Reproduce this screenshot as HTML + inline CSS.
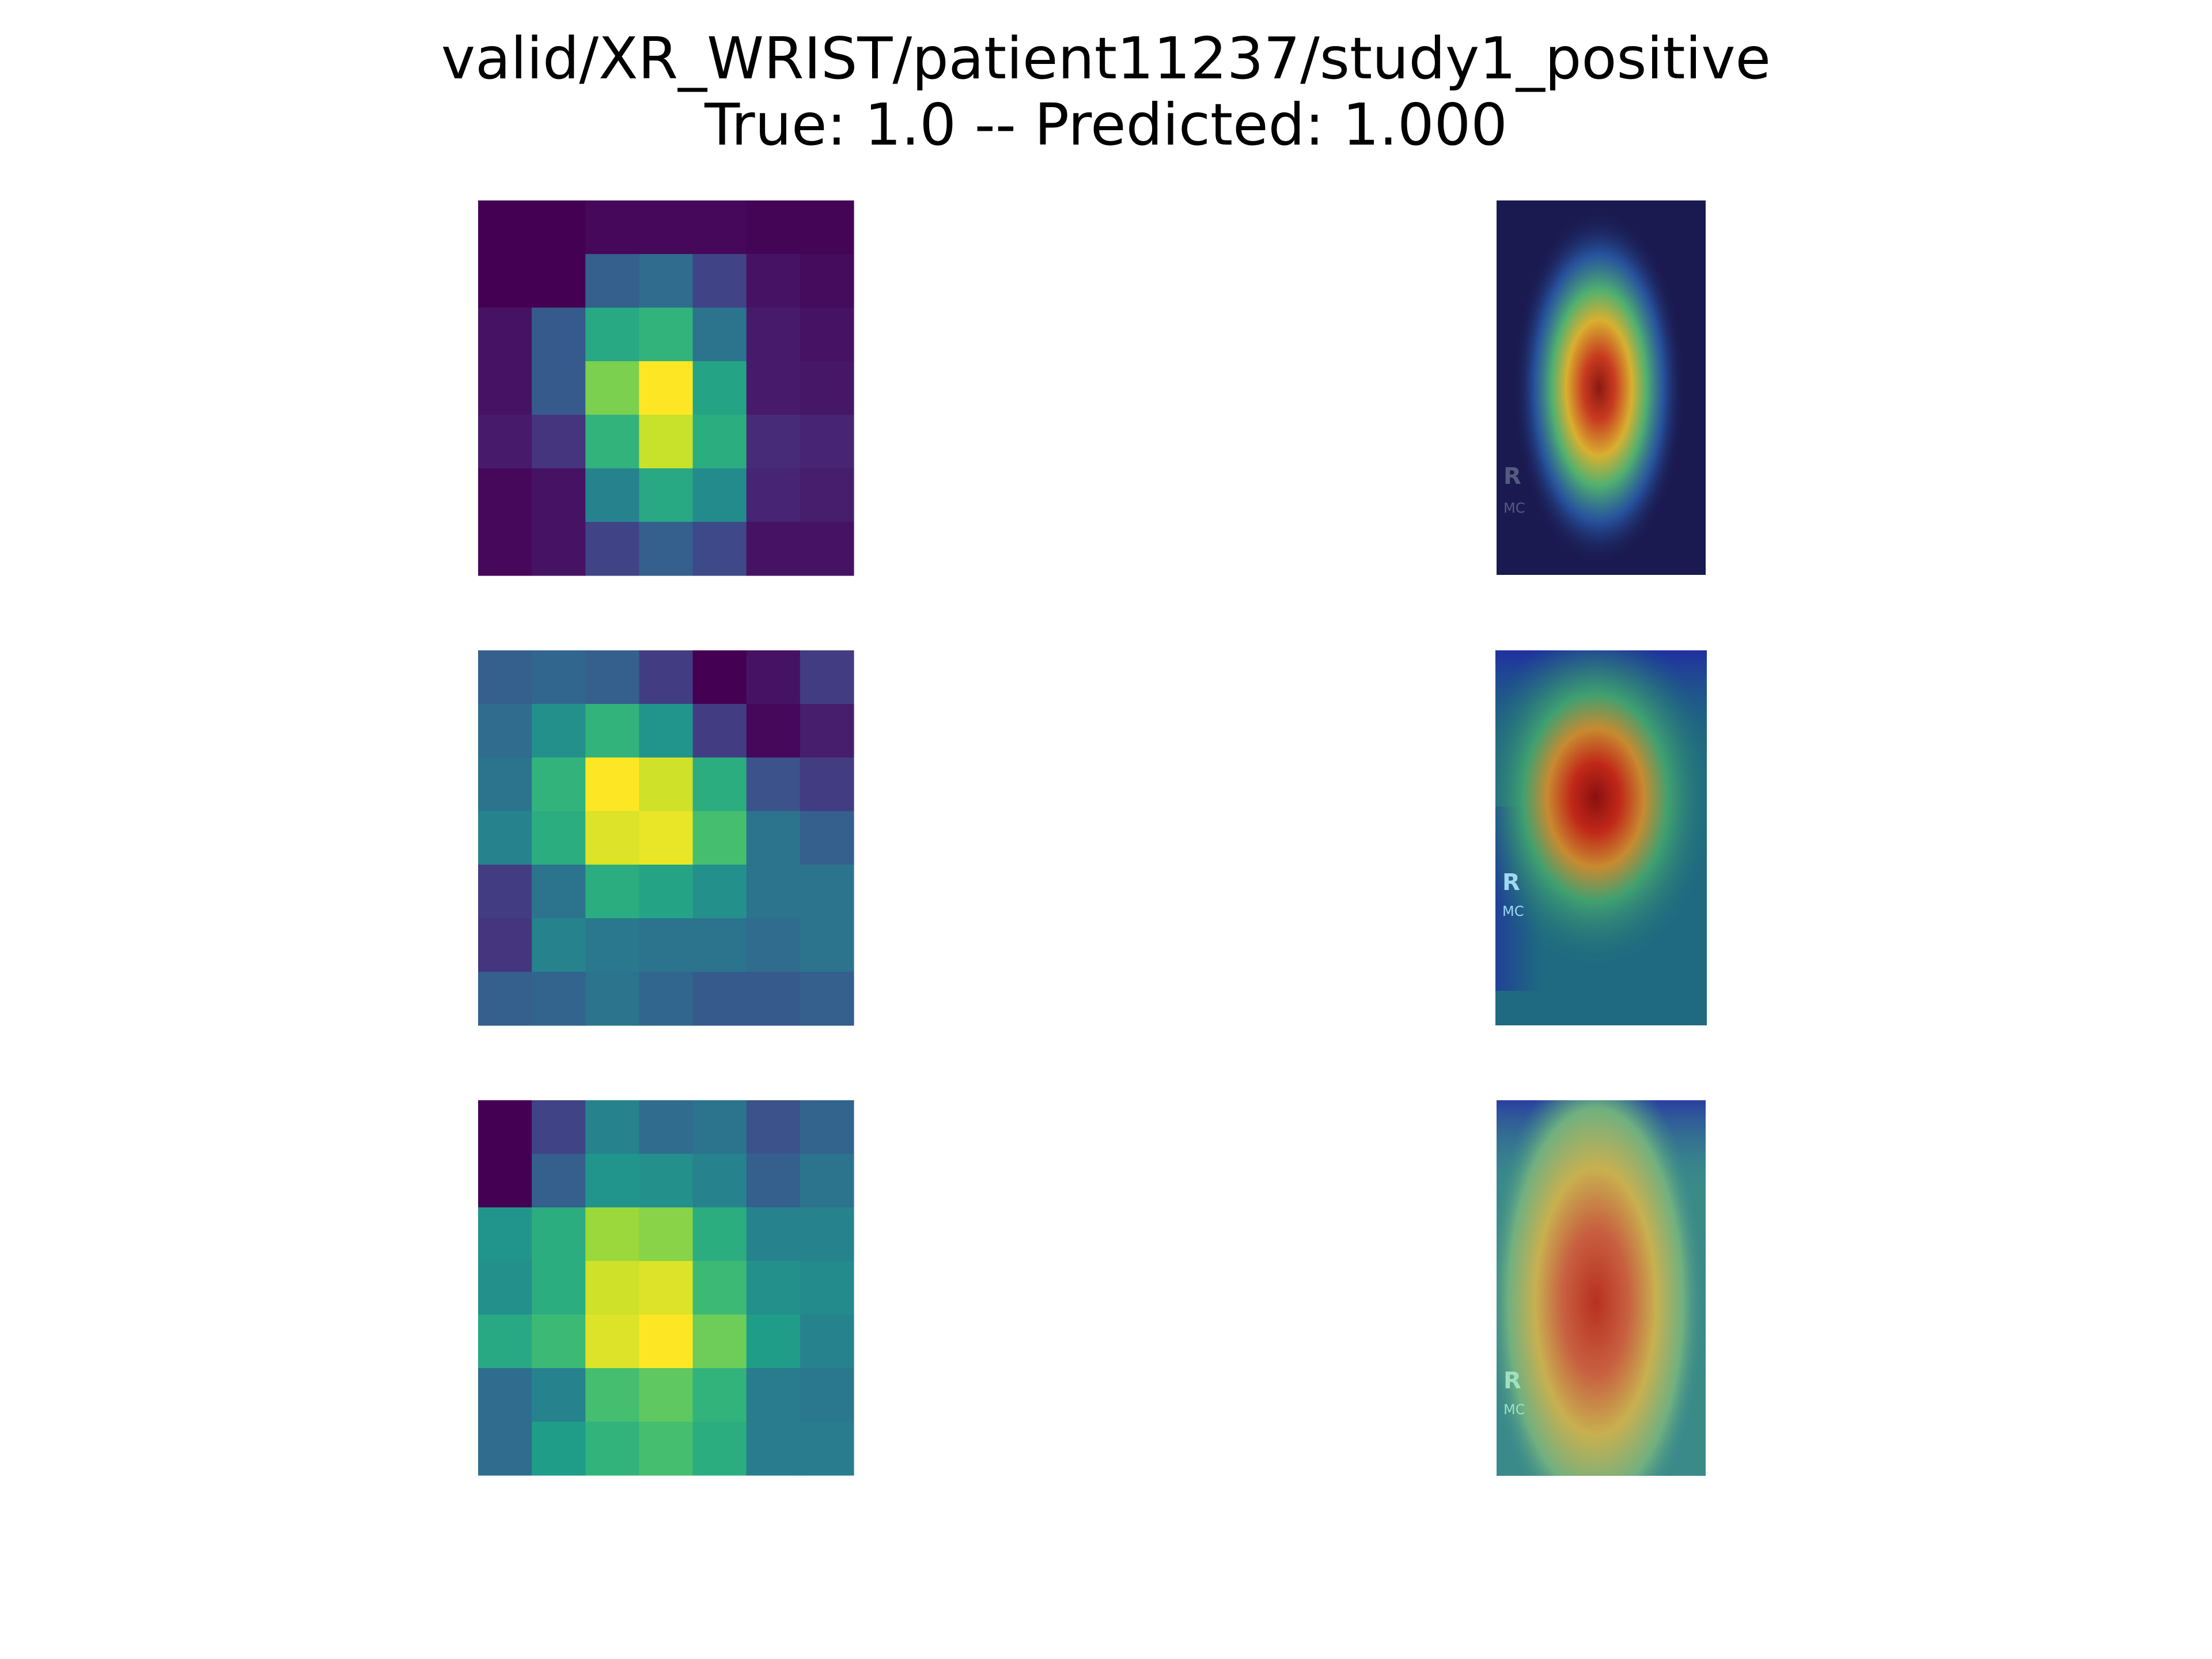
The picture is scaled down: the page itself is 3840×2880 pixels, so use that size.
<!DOCTYPE html>
<html><head><meta charset="utf-8"><style>
html,body{margin:0;padding:0;background:#fff;}
#wrap{position:relative;width:3840px;height:2880px;overflow:hidden;font-family:"DejaVu Sans","Liberation Sans",sans-serif;}
.t{position:absolute;left:0;width:3840px;text-align:center;font-size:100px;color:#000;line-height:1;}
svg{position:absolute;left:0;top:0;}
</style></head><body>
<div id="wrap">
<div class="t" style="top:52px">valid/XR_WRIST/patient11237/study1_positive</div>
<div class="t" style="top:167px">True: 1.0 -- Predicted: 1.000</div>
<svg id="chart" width="3840" height="2880">
<defs>
<clipPath id="c1"><rect x="2598" y="348" width="363" height="650"/></clipPath>
<clipPath id="c2"><rect x="2596" y="1129" width="367" height="651"/></clipPath>
<clipPath id="c3"><rect x="2598" y="1910" width="363" height="652"/></clipPath>
<radialGradient id="jet1" cx="0.5" cy="0.5" r="0.5">
<stop offset="0" stop-color="#8a1a10"/><stop offset="0.18" stop-color="#c83a20"/><stop offset="0.38" stop-color="#d8b030"/><stop offset="0.55" stop-color="#50b070"/><stop offset="0.75" stop-color="#2a60b0" stop-opacity="0.8"/><stop offset="1" stop-color="#1a1a50" stop-opacity="0"/>
</radialGradient>
<radialGradient id="jet2" cx="0.5" cy="0.5" r="0.5">
<stop offset="0" stop-color="#8a1010"/><stop offset="0.2" stop-color="#c02818"/><stop offset="0.4" stop-color="#c88a30"/><stop offset="0.6" stop-color="#40a070"/><stop offset="1" stop-color="#1f6a80" stop-opacity="0"/>
</radialGradient>
<radialGradient id="jet3" cx="0.5" cy="0.5" r="0.5">
<stop offset="0" stop-color="#b83020"/><stop offset="0.3" stop-color="#c86040"/><stop offset="0.55" stop-color="#c8b050"/><stop offset="0.8" stop-color="#70b080"/><stop offset="1" stop-color="#3a8a8a" stop-opacity="0"/>
</radialGradient>
<linearGradient id="top2" x1="0" y1="0" x2="0" y2="1"><stop offset="0" stop-color="#2030a0"/><stop offset="0.3" stop-color="#1f6a80" stop-opacity="0"/></linearGradient>
<linearGradient id="top3" x1="0" y1="0" x2="0" y2="1"><stop offset="0" stop-color="#2a40a0"/><stop offset="0.25" stop-color="#3a8a8a" stop-opacity="0"/></linearGradient>
<linearGradient id="left2" x1="0" y1="0" x2="1" y2="0"><stop offset="0" stop-color="#2030a0" stop-opacity="0.7"/><stop offset="1" stop-color="#2030a0" stop-opacity="0"/></linearGradient>
</defs>
<g id="heat"></g>
<g id="overlays">
<g clip-path="url(#c1)">
<rect x="2598" y="348" width="363" height="650" fill="#1a1a50"/>
<ellipse cx="2776" cy="673" rx="150" ry="310" fill="url(#jet1)"/>
<text x="2610" y="840" font-size="40" font-weight="bold" fill="#555a80">R</text>
<text x="2610" y="890" font-size="24" fill="#555a80">MC</text>
</g>
<g clip-path="url(#c2)">
<rect x="2596" y="1129" width="367" height="651" fill="#1f6a80"/>
<rect x="2596" y="1129" width="367" height="651" fill="url(#top2)"/>
<rect x="2596" y="1400" width="80" height="320" fill="url(#left2)"/>
<ellipse cx="2770" cy="1385" rx="210" ry="300" fill="url(#jet2)"/>
<text x="2608" y="1545" font-size="40" font-weight="bold" fill="#a0d8f0">R</text>
<text x="2608" y="1590" font-size="24" fill="#a0d8f0">MC</text>
</g>
<g clip-path="url(#c3)">
<rect x="2598" y="1910" width="363" height="652" fill="#3a8a8a"/>
<rect x="2598" y="1910" width="363" height="652" fill="url(#top3)"/>
<ellipse cx="2770" cy="2260" rx="190" ry="420" fill="url(#jet3)"/>
<text x="2610" y="2410" font-size="40" font-weight="bold" fill="#a0e0c0">R</text>
<text x="2610" y="2455" font-size="24" fill="#a0e0c0">MC</text>
</g>
</g>
</svg>
</div>
<script>
const map1=[[0.0,0.0,0.02,0.02,0.02,0.01,0.01],[0.0,0.0,0.3,0.35,0.2,0.05,0.03],[0.05,0.28,0.6,0.65,0.38,0.07,0.05],[0.05,0.28,0.8,1.0,0.58,0.07,0.06],[0.07,0.15,0.65,0.92,0.62,0.12,0.1],[0.02,0.05,0.45,0.6,0.48,0.1,0.08],[0.02,0.05,0.2,0.3,0.22,0.05,0.05]];
const map2=[[0.3,0.33,0.3,0.18,0.0,0.05,0.18],[0.35,0.5,0.65,0.52,0.18,0.02,0.08],[0.38,0.65,1.0,0.93,0.62,0.25,0.18],[0.45,0.62,0.95,0.97,0.7,0.38,0.3],[0.18,0.38,0.62,0.58,0.5,0.38,0.38],[0.15,0.45,0.4,0.38,0.38,0.35,0.38],[0.3,0.32,0.38,0.33,0.28,0.28,0.3]];
const map3=[[0.0,0.2,0.45,0.35,0.38,0.25,0.32],[0.0,0.3,0.52,0.5,0.45,0.3,0.38],[0.52,0.62,0.85,0.82,0.62,0.45,0.45],[0.5,0.62,0.93,0.95,0.68,0.5,0.48],[0.6,0.68,0.95,1.0,0.78,0.55,0.45],[0.35,0.45,0.7,0.75,0.65,0.42,0.4],[0.35,0.55,0.65,0.7,0.62,0.42,0.42]];
const maps=[map1,map2,map3];
const vir=[[68,1,84],[72,40,120],[62,74,137],[49,104,142],[38,130,142],[31,158,137],[53,183,121],[109,205,89],[180,222,44],[253,231,37]];
function viridis(v){v=Math.max(0,Math.min(1,v))*9;const i=Math.min(8,Math.floor(v)),f=v-i;const a=vir[i],b=vir[i+1];return 'rgb('+a.map((c,k)=>Math.round(c+(b[k]-c)*f)).join(',')+')';}
const panelX=830,panelW=652,panelTops=[348,1129,1910],panelH=651;
const g=document.getElementById('heat');
maps.forEach((m,p)=>{
 const grp=document.createElementNS('http://www.w3.org/2000/svg','g');
 
 
 const n=m.length,cw=panelW/n,ch=panelH/n;
 m.forEach((row,r)=>row.forEach((v,c)=>{
  const el=document.createElementNS('http://www.w3.org/2000/svg','rect');
  el.setAttribute('x',panelX+c*cw);el.setAttribute('y',panelTops[p]+r*ch);
  el.setAttribute('width',cw+0.6);el.setAttribute('height',ch+0.6);
  el.setAttribute('fill',viridis(v));
  
  
  grp.appendChild(el);
 }));
 g.appendChild(grp);
});
</script>
</body></html>
